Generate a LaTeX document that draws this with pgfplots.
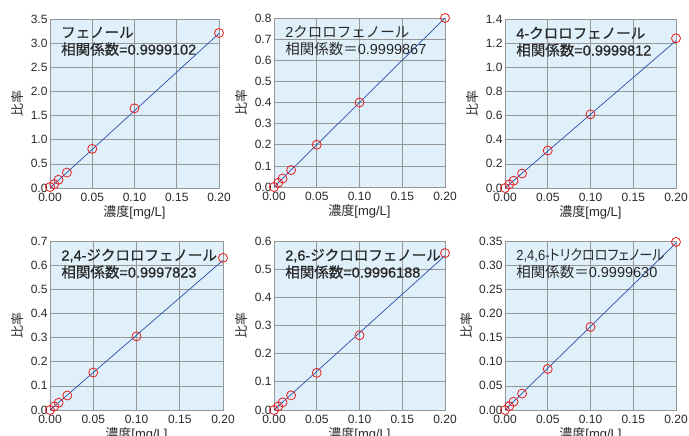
\documentclass[border=0pt]{standalone}
\usepackage{pgfplots}
\pgfplotsset{compat=1.18}
\usepackage{fontspec}
\setmainfont{Liberation Sans}
\newfontfamily\jp{Noto Sans CJK JP}
\newfontfamily\jpp[RawFeature=+palt]{Noto Sans CJK JP}
\newfontfamily\jpb[FakeBold=0.6]{Noto Sans CJK JP}
\newfontfamily\latb[FakeBold=0.6]{Liberation Sans}
\definecolor{bgblue}{RGB}{223,240,251}
\definecolor{gridgray}{RGB}{150,150,150}
\definecolor{lineblue}{RGB}{40,80,170}
\definecolor{markred}{RGB}{230,30,30}
\definecolor{txt}{RGB}{40,40,40}
\pgfplotsset{
  cal/.style={
    scale only axis, width=171pt, height=169pt,
    xmin=0, xmax=0.2, ymin=0,
    axis background/.style={fill=bgblue},
    axis line style={gridgray, line width=0.8pt},
    grid=major, major grid style={gridgray, line width=0.7pt},
    major tick length=0pt,
    xtick={0,0.05,0.1,0.15,0.2},
    /pgf/number format/assume math mode=true,
    tick label style={font=\fontsize{12}{12}\selectfont, text=txt},
    xticklabel style={yshift=-2pt, /pgf/number format/.cd, fixed, fixed zerofill, precision=2},
    yticklabel shift=-1pt,
    xlabel={{\jp 濃度}[mg/L]}, ylabel={\jp 比率},
    label style={font=\fontsize{13}{13}\selectfont, text=txt},
    xlabel style={yshift=3pt},
    ylabel style={yshift=0pt},
    clip=false,
  },
  line/.style={lineblue, line width=0.7pt, no marks},
  pts/.style={only marks, mark=o, mark size=4.5pt, mark options={markred, line width=0.8pt}},
}
\newcommand{\ttl}[2]{\node[anchor=north west, align=left, inner sep=0pt, text=txt, font=\fontsize{14.5}{17}\selectfont] at (rel axis cs:0.065,0.955) {#1\\#2};}
\begin{document}
\begin{tikzpicture}[x=1pt,y=1pt]
\useasboundingbox (0,0) rectangle (689,436);
% Panel 1
\begin{axis}[cal, at={(50pt,248pt)}, anchor=south west, width=169pt, ymax=3.5, ytick={0,0.5,...,3.5},
  yticklabel style={/pgf/number format/.cd, fixed, fixed zerofill, precision=1}]
\addplot[line] coordinates {(0,0.0) (0.2,3.2)};
\addplot[pts] coordinates {(0,0.02) (0.005,0.08) (0.01,0.17) (0.02,0.32) (0.05,0.81) (0.1,1.65) (0.2,3.21)};
\ttl{\jpb フェノール}{{\jpb 相関係数}{\latb =0.9999102}}
\end{axis}
% Panel 2
\begin{axis}[cal, at={(274pt,249pt)}, anchor=south west, ymax=0.8, ytick={0,0.1,...,0.8},
  yticklabel style={/pgf/number format/.cd, fixed, fixed zerofill, precision=1}]
\addplot[line] coordinates {(0,0.0) (0.2,0.8)};
\addplot[pts] coordinates {(0,0.0) (0.005,0.02) (0.01,0.04) (0.02,0.08) (0.05,0.2) (0.1,0.40) (0.2,0.80)};
\ttl{2{\jp クロロフェノール}}{{\jp 相関係数＝}0.9999867}
\end{axis}
% Panel 3
\begin{axis}[cal, at={(505pt,248pt)}, anchor=south west, ymax=1.4, ytick={0,0.2,...,1.4},
  yticklabel style={/pgf/number format/.cd, fixed, fixed zerofill, precision=1}]
\addplot[line] coordinates {(0,0.0) (0.2,1.22)};
\addplot[pts] coordinates {(0,0.0) (0.005,0.03) (0.01,0.06) (0.02,0.12) (0.05,0.31) (0.1,0.61) (0.2,1.24)};
\ttl{{\latb 4-}{\jpb クロロフェノール}}{{\jpb 相関係数}{\latb =0.9999812}}
\end{axis}
% Panel 4
\begin{axis}[cal, at={(50pt,26pt)}, anchor=south west, width=173pt, ymax=0.7, ytick={0,0.1,...,0.7},
  yticklabel style={/pgf/number format/.cd, fixed, fixed zerofill, precision=1}]
\addplot[line] coordinates {(0,0.0) (0.2,0.62)};
\addplot[pts] coordinates {(0,0.0) (0.005,0.015) (0.01,0.03) (0.02,0.06) (0.05,0.155) (0.1,0.305) (0.2,0.63)};
\ttl{{\latb 2,4-}{\jpb ジクロロフェノール}}{{\jpb 相関係数}{\latb =0.9997823}}
\end{axis}
% Panel 5
\begin{axis}[cal, at={(274pt,26pt)}, anchor=south west, ymax=0.6, ytick={0,0.1,...,0.6},
  yticklabel style={/pgf/number format/.cd, fixed, fixed zerofill, precision=1}]
\addplot[line] coordinates {(0,0.0) (0.2,0.548)};
\addplot[pts] coordinates {(0,0.0) (0.005,0.013) (0.01,0.027) (0.02,0.052) (0.05,0.132) (0.1,0.265) (0.2,0.557)};
\ttl{{\latb 2,6-}{\jpb ジクロロフェノール}}{{\jpb 相関係数}{\latb =0.9996188}}
\end{axis}
% Panel 6
\begin{axis}[cal, at={(505pt,26pt)}, anchor=south west, ymax=0.35, ytick={0,0.05,...,0.35},
  yticklabel style={/pgf/number format/.cd, fixed, fixed zerofill, precision=2}]
\addplot[line] coordinates {(0,0.0) (0.2,0.346)};
\addplot[pts] coordinates {(0,0.0) (0.005,0.008) (0.01,0.017) (0.02,0.034) (0.05,0.085) (0.1,0.172) (0.2,0.348)};
\ttl{\scalebox{0.9}[1]{2,4,6-{\jpp トリクロロフェノール}}}{{\jp 相関係数＝}0.9999630}
\end{axis}
\end{tikzpicture}
\end{document}
